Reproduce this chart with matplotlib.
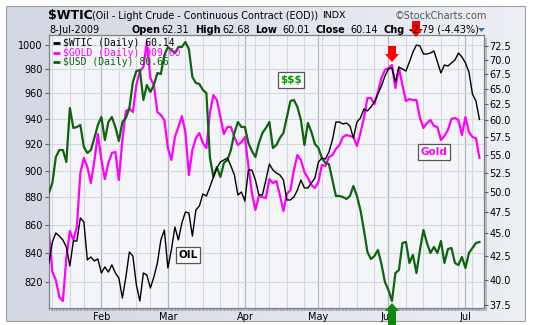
import numpy as np
import matplotlib
matplotlib.use("Agg")
import matplotlib.pyplot as plt
from matplotlib.ticker import FixedLocator, FixedFormatter, NullLocator
from matplotlib.patches import Rectangle, Polygon
from matplotlib.colors import LinearSegmentedColormap

W, H = 533, 325

# one value per trading session, 9-Jan-2009 .. 8-Jul-2009
wtic = [41.74, 44.03, 45.05, 44.70, 44.26, 43.47, 41.42, 44.14, 44.14, 46.80,
        46.33, 42.06, 42.38, 41.95, 42.17, 40.69, 41.32, 40.79, 41.53, 40.69,
        40.17, 38.18, 40.27, 42.92, 42.49, 39.47, 37.89, 40.69, 40.48, 39.16,
        40.27, 41.74, 44.26, 45.39, 41.21, 43.14, 45.74, 44.26, 46.21, 47.52,
        47.40, 44.70, 47.76, 48.26, 49.75, 49.49, 50.64, 51.95, 53.15, 53.97,
        54.25, 54.52, 53.43, 52.21, 49.63, 50.00, 48.87, 52.88, 52.88, 51.55,
        49.63, 49.63, 51.55, 53.69, 52.88, 52.48, 52.21, 51.55, 49.00, 49.00,
        49.37, 50.26, 51.55, 50.52, 50.52, 51.16, 51.81, 53.97, 54.52, 54.38,
        55.36, 57.08, 59.75, 59.75, 59.45, 59.60, 59.15, 57.37, 59.75, 60.36,
        61.76, 61.45, 62.08, 62.87, 64.16, 65.48, 67.17, 68.38, 68.56, 66.16,
        68.73, 68.38, 68.03, 69.61, 71.40, 72.68, 72.50, 71.04, 71.04, 71.22,
        71.59, 69.61, 67.69, 69.08, 68.90, 69.44, 69.96, 71.22, 70.50, 69.44,
        67.86, 64.16, 63.03, 60.14]

gold = [855.5, 826.7, 821.1, 809.5, 806.8, 836.4, 855.5, 849.1, 858.4, 898.1,
        909.5, 902.6, 890.6, 907.2, 927.9, 908.0, 893.6, 905.7, 913.3, 914.1,
        892.9, 923.3, 946.0, 947.6, 945.2, 966.8, 978.2, 981.5, 1002.0, 972.5,
        966.8, 945.2, 942.8, 938.9, 917.1, 908.0, 925.6, 933.4, 942.0, 929.5,
        896.6, 915.6, 924.8, 928.7, 921.0, 917.1, 944.4, 958.7, 954.7, 941.2,
        927.9, 933.4, 933.4, 925.6, 919.4, 921.7, 925.6, 903.4, 883.2, 870.7,
        881.0, 880.2, 879.5, 893.6, 890.6, 892.1, 881.7, 870.0, 882.5, 885.4,
        900.4, 911.8, 908.0, 898.9, 894.4, 889.1, 886.9, 891.4, 904.2, 903.4,
        910.2, 911.8, 916.4, 919.4, 925.6, 927.2, 926.4, 925.6, 918.7, 928.7,
        940.5, 956.3, 956.3, 951.6, 961.2, 972.5, 979.0, 980.7, 983.1, 964.4,
        980.7, 966.8, 953.9, 955.5, 954.7, 954.7, 940.5, 932.6, 936.5, 938.9,
        934.2, 933.4, 923.3, 926.4, 931.1, 939.7, 940.5, 938.9, 927.2, 941.2,
        929.5, 925.6, 924.8, 909.6]

usd = [82.62, 83.02, 84.06, 84.34, 84.34, 83.86, 86.02, 85.22, 85.26, 85.34,
       84.46, 84.22, 84.34, 84.82, 85.34, 85.66, 84.74, 85.46, 85.66, 85.26,
       84.70, 85.46, 85.62, 86.02, 87.06, 87.50, 87.54, 86.34, 86.94, 86.66,
       86.94, 87.42, 87.38, 88.14, 88.46, 88.34, 88.22, 88.46, 88.46, 88.66,
       88.38, 87.26, 87.02, 86.98, 86.74, 86.62, 84.06, 83.26, 83.66, 83.26,
       83.82, 83.94, 84.34, 85.02, 85.46, 85.26, 85.26, 84.62, 84.30, 84.06,
       84.62, 85.02, 85.22, 85.46, 84.42, 84.54, 84.82, 85.02, 85.66, 86.30,
       86.34, 86.06, 85.54, 84.54, 85.42, 85.06, 84.58, 84.42, 84.02, 83.82,
       83.78, 83.14, 82.50, 82.50, 82.46, 82.38, 82.50, 82.90, 82.50, 81.94,
       81.14, 80.26, 79.98, 80.10, 80.34, 79.78, 79.06, 78.74, 78.30, 79.42,
       79.54, 80.62, 80.66, 79.82, 80.14, 79.42, 80.34, 81.14, 80.62, 80.22,
       80.46, 80.22, 80.70, 79.82, 80.38, 80.42, 79.82, 79.74, 80.06, 79.62,
       80.22, 80.42, 80.62, 80.66]

month_labels = ["Feb", "Mar", "Apr", "May", "Jun", "Jul"]
month_starts = [15, 34, 56, 77, 97, 119]
week_starts = [1, 6, 10, 15, 20, 25, 29, 34, 39, 44, 49, 54, 59, 63, 68, 73,
               78, 83, 88, 93, 97, 102, 107, 112, 117, 121]
gold_ticks = [820, 840, 860, 880, 900, 920, 940, 960, 980, 1000]
wtic_ticks = [37.5, 40.0, 42.5, 45.0, 47.5, 50.0, 52.5, 55.0, 57.5, 60.0,
              62.5, 65.0, 67.5, 70.0, 72.5]

C_OIL = "#000000"
C_GOLD = "#ff00ff"
C_USD = "#0e640e"


def fx(px):
    return px / W


def fy(py):
    return 1 - py / H


fig = plt.figure(figsize=(W / 100, H / 100), dpi=100, facecolor="white")

# outer frame with soft gradient
bg = fig.add_axes([0, 0, 1, 1], zorder=0)
bg.set_xlim(0, W)
bg.set_ylim(H, 0)
bg.axis("off")
grad = np.linspace(0, 1, 256).reshape(1, -1)
cmap = LinearSegmentedColormap.from_list("frame", ["#d3d7e1", "#edeff5"])
bg.imshow(grad, extent=(6, 525, 321, 6), aspect="auto", cmap=cmap)
bg.add_patch(Rectangle((6, 6), 519, 315, fill=False, ec="#9aa0ac", lw=0.8))
# drop shadow behind the plot area
bg.add_patch(Rectangle((51, 38), 436, 273, fc="#b9bdc6", ec="none"))

x = np.arange(len(wtic))
x0, x1 = 48.5, 484
y0, y1 = 35, 308
rect = [fx(x0), fy(y1), fx(x1) - fx(x0), fy(y0) - fy(y1)]

ax = fig.add_axes(rect, zorder=1)
ax.set_facecolor("#f4f5f9")
ax.set_xlim(-0.1, 124.3)
ax.set_yscale("log")
ax.set_ylim(802.1, 1008.2)

# weekly and monthly grid
for w in week_starts:
    ax.axvline(w, color="#d5d8df", lw=0.8, zorder=0)
for m in month_starts:
    ax.axvline(m, color="#b4b8c1", lw=0.9, zorder=0)
for g in gold_ticks:
    ax.axhline(g, color="#d5d8df", lw=0.8, zorder=0)

ax.plot(x, gold, color=C_GOLD, lw=1.6, solid_joinstyle="round")

ax.yaxis.set_major_locator(FixedLocator(gold_ticks))
ax.yaxis.set_major_formatter(FixedFormatter([str(g) for g in gold_ticks]))
ax.yaxis.set_minor_locator(NullLocator())
ax.set_xticks(month_starts)
ax.set_xticklabels(month_labels)
ax.xaxis.set_minor_locator(FixedLocator(list(x)))
ax.tick_params(axis="y", labelsize=7, length=3, width=0.8, color="#666666", pad=1)
ax.tick_params(axis="x", labelsize=7, length=0, pad=3)
ax.tick_params(axis="x", which="minor", length=1.5, width=0.6, color="#888888")
for s in ax.spines.values():
    s.set_color("#7d828c")
    s.set_linewidth(0.9)

ax3 = ax.twinx()
ax3.set_ylim(78.02, 88.94)
ax3.plot(x, usd, color=C_USD, lw=1.6, solid_joinstyle="round")
ax3.axis("off")

ax2 = ax.twinx()
ax2.set_yscale("log")
ax2.set_ylim(37.22, 74.56)
ax2.plot(x, wtic, color=C_OIL, lw=1.0)
ax2.yaxis.set_major_locator(FixedLocator(wtic_ticks))
ax2.yaxis.set_major_formatter(FixedFormatter(["%.1f" % t for t in wtic_ticks]))
ax2.yaxis.set_minor_locator(NullLocator())
ax2.tick_params(axis="y", labelsize=7, length=3, width=0.8, color="#666666", pad=1)
for s in ax2.spines.values():
    s.set_visible(False)

# legend lines in the top-left corner
legend_rows = [("$WTIC (Daily) 60.14", C_OIL, 43),
               ("$GOLD (Daily) 909.60", C_GOLD, 52.5),
               ("$USD (Daily) 80.66", C_USD, 62)]

top = fig.add_axes([0, 0, 1, 1], zorder=5)
top.set_xlim(0, W)
top.set_ylim(H, 0)
top.axis("off")
for label, col, yy in legend_rows:
    top.plot([53, 60], [yy, yy], color=col, lw=2, solid_capstyle="butt")
    top.text(63, yy, label, color=col, fontsize=7, family="DejaVu Sans Mono",
             va="center", ha="left")

# header
top.text(48, 16, "$WTIC", fontsize=9, fontweight="bold", va="center")
top.text(92, 16, "(Oil - Light Crude - Continuous Contract (EOD))", fontsize=6.9,
         va="center")
top.text(322, 16, "INDX", fontsize=6.8, va="center")
top.text(395, 16, "\u00a9StockCharts.com", fontsize=7, color="#555555", va="center")

header2 = [("8-Jul-2009", 49, False), ("Open", 131, True), ("62.31", 161, False),
           ("High", 195, True), ("62.68", 222, False), ("Low", 255, True),
           ("60.01", 282, False), ("Close", 316, True), ("60.14", 350, False),
           ("Chg", 383, True), ("-2.79 (-4.43%)", 409, False)]
for txt, px, bold in header2:
    top.text(px, 30, txt, fontsize=7, fontweight="bold" if bold else "normal",
             va="center")
top.add_patch(Polygon([(478, 28), (485, 28), (481.5, 32)], closed=True,
                      fc="#4a6ea8", ec="none"))


def block_arrow(cx, tip, length, down, color):
    s = 1 if down else -1
    base = tip - s * length
    neck = tip - s * 8
    pts = [(cx - 4, base), (cx + 4, base), (cx + 4, neck), (cx + 7, neck),
           (cx, tip), (cx - 7, neck), (cx - 4, neck)]
    top.add_patch(Polygon(pts, closed=True, fc=color, ec="none"))


block_arrow(392, 62, 16, True, "#ff0000")
block_arrow(416, 37, 16, True, "#ff0000")
block_arrow(392, 303, 22, False, "#118811")

box = dict(boxstyle="square,pad=0.25", fc="white", ec="#555555", lw=0.9)
top.text(291, 80, "$$$", fontsize=7.5, fontweight="bold", color="#00a000",
         ha="center", va="center", bbox=box)
top.text(188, 255, "OIL", fontsize=7.5, fontweight="bold", color="black",
         ha="center", va="center", bbox=box)
top.text(434, 152, "Gold", fontsize=7.5, fontweight="bold", color=C_GOLD,
         ha="center", va="center", bbox=box)

fig.savefig("out.png", dpi=100)
